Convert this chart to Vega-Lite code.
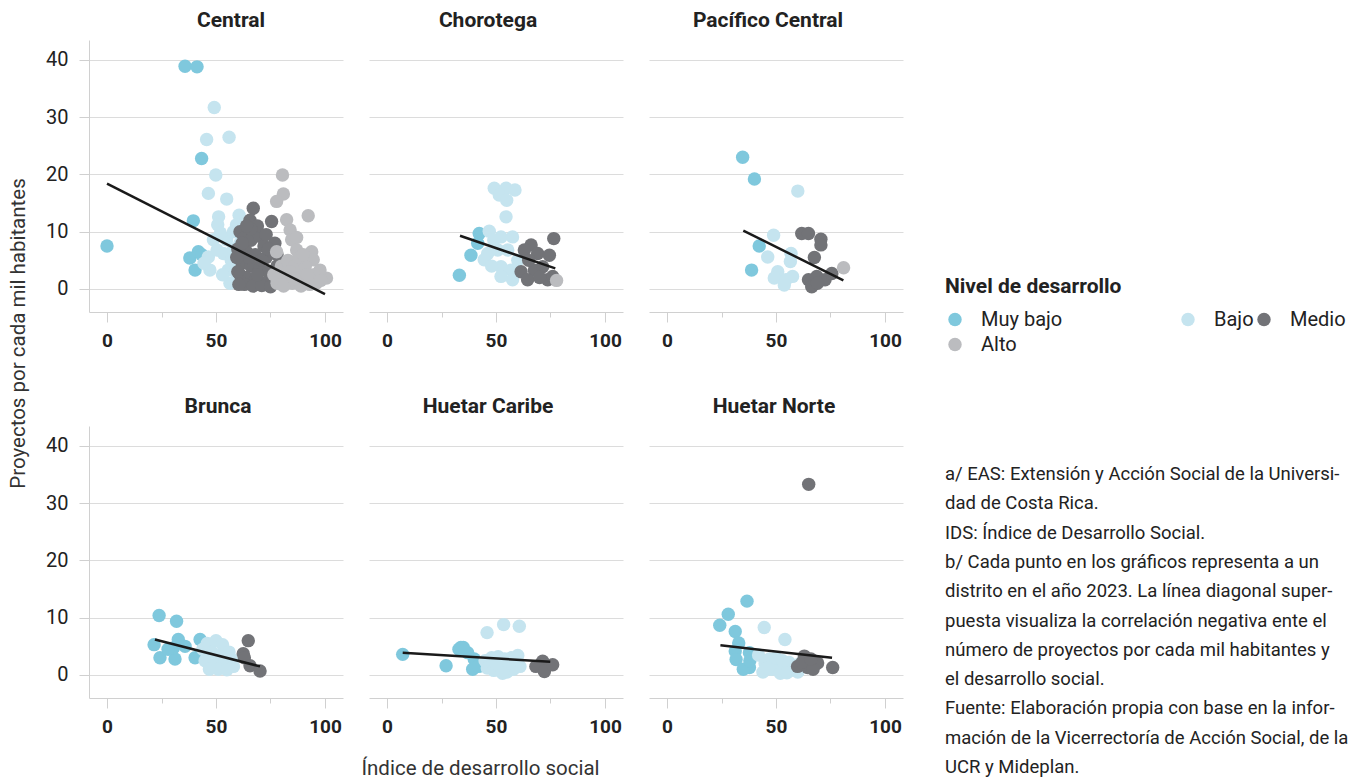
{
"$schema": "https://vega.github.io/schema/vega-lite/v6.json",
"padding": {"left": 8, "top": 10, "right": 0, "bottom": 0},
"config": {"font": "Roboto", "view": {"stroke": null}},
"datasets": {
"pts": [
{"region":"Central","nivel":"Muy bajo","ids":0,"proy":7.5},
{"region":"Central","nivel":"Muy bajo","ids":35.8,"proy":38.9},
{"region":"Central","nivel":"Muy bajo","ids":41.3,"proy":38.8},
{"region":"Central","nivel":"Muy bajo","ids":43.4,"proy":22.8},
{"region":"Central","nivel":"Muy bajo","ids":39.6,"proy":11.9},
{"region":"Central","nivel":"Muy bajo","ids":38,"proy":5.4},
{"region":"Central","nivel":"Muy bajo","ids":41.9,"proy":6.5},
{"region":"Central","nivel":"Muy bajo","ids":40.4,"proy":3.3},
{"region":"Central","nivel":"Muy bajo","ids":43.5,"proy":6.0},
{"region":"Central","nivel":"Bajo","ids":49.2,"proy":31.7},
{"region":"Central","nivel":"Bajo","ids":45.7,"proy":26.1},
{"region":"Central","nivel":"Bajo","ids":56,"proy":26.5},
{"region":"Central","nivel":"Bajo","ids":49.9,"proy":19.9},
{"region":"Central","nivel":"Bajo","ids":46.5,"proy":16.7},
{"region":"Central","nivel":"Bajo","ids":54.9,"proy":15.7},
{"region":"Central","nivel":"Bajo","ids":51.2,"proy":12.6},
{"region":"Central","nivel":"Bajo","ids":60.6,"proy":12.9},
{"region":"Central","nivel":"Bajo","ids":50.8,"proy":11.2},
{"region":"Central","nivel":"Bajo","ids":59.4,"proy":11.2},
{"region":"Central","nivel":"Bajo","ids":48.8,"proy":8.6},
{"region":"Central","nivel":"Bajo","ids":54.9,"proy":8.6},
{"region":"Central","nivel":"Bajo","ids":46.5,"proy":5.6},
{"region":"Central","nivel":"Bajo","ids":53.4,"proy":6.2},
{"region":"Central","nivel":"Bajo","ids":55.6,"proy":3.3},
{"region":"Central","nivel":"Bajo","ids":47.2,"proy":3.3},
{"region":"Central","nivel":"Bajo","ids":56.4,"proy":1.0},
{"region":"Central","nivel":"Bajo","ids":52,"proy":9.8},
{"region":"Central","nivel":"Bajo","ids":58,"proy":7},
{"region":"Central","nivel":"Bajo","ids":57,"proy":5},
{"region":"Central","nivel":"Bajo","ids":44.5,"proy":4.5},
{"region":"Central","nivel":"Bajo","ids":53,"proy":2.5},
{"region":"Central","nivel":"Bajo","ids":59,"proy":3},
{"region":"Central","nivel":"Bajo","ids":50.5,"proy":6.8},
{"region":"Central","nivel":"Bajo","ids":61,"proy":8},
{"region":"Central","nivel":"Bajo","ids":58,"proy":10},
{"region":"Central","nivel":"Medio","ids":67.1,"proy":14.1},
{"region":"Central","nivel":"Medio","ids":75.5,"proy":11.8},
{"region":"Central","nivel":"Medio","ids":65.6,"proy":12},
{"region":"Central","nivel":"Medio","ids":61,"proy":10},
{"region":"Central","nivel":"Medio","ids":63,"proy":9},
{"region":"Central","nivel":"Medio","ids":66,"proy":8.5},
{"region":"Central","nivel":"Medio","ids":70,"proy":9.2},
{"region":"Central","nivel":"Medio","ids":72,"proy":7.5},
{"region":"Central","nivel":"Medio","ids":60,"proy":7},
{"region":"Central","nivel":"Medio","ids":64,"proy":6.5},
{"region":"Central","nivel":"Medio","ids":68,"proy":6},
{"region":"Central","nivel":"Medio","ids":73,"proy":5.5},
{"region":"Central","nivel":"Medio","ids":76,"proy":6.5},
{"region":"Central","nivel":"Medio","ids":62,"proy":4.5},
{"region":"Central","nivel":"Medio","ids":66,"proy":4},
{"region":"Central","nivel":"Medio","ids":70,"proy":3.5},
{"region":"Central","nivel":"Medio","ids":74,"proy":3},
{"region":"Central","nivel":"Medio","ids":78,"proy":4},
{"region":"Central","nivel":"Medio","ids":61,"proy":2.5},
{"region":"Central","nivel":"Medio","ids":64,"proy":2},
{"region":"Central","nivel":"Medio","ids":68,"proy":1.5},
{"region":"Central","nivel":"Medio","ids":72,"proy":1},
{"region":"Central","nivel":"Medio","ids":76,"proy":1.5},
{"region":"Central","nivel":"Medio","ids":63,"proy":0.8},
{"region":"Central","nivel":"Medio","ids":67,"proy":0.5},
{"region":"Central","nivel":"Medio","ids":71,"proy":0.6},
{"region":"Central","nivel":"Medio","ids":75,"proy":0.4},
{"region":"Central","nivel":"Medio","ids":79,"proy":2},
{"region":"Central","nivel":"Medio","ids":69,"proy":2.5},
{"region":"Central","nivel":"Medio","ids":65,"proy":5.5},
{"region":"Central","nivel":"Medio","ids":62,"proy":8},
{"region":"Central","nivel":"Medio","ids":71,"proy":5},
{"region":"Central","nivel":"Medio","ids":59.5,"proy":5.5},
{"region":"Central","nivel":"Medio","ids":60,"proy":3},
{"region":"Central","nivel":"Medio","ids":77,"proy":8},
{"region":"Central","nivel":"Medio","ids":60.5,"proy":0.8},
{"region":"Central","nivel":"Medio","ids":69,"proy":11},
{"region":"Central","nivel":"Medio","ids":73,"proy":9.5},
{"region":"Central","nivel":"Medio","ids":66,"proy":10.5},
{"region":"Central","nivel":"Medio","ids":64,"proy":11},
{"region":"Central","nivel":"Medio","ids":74,"proy":7},
{"region":"Central","nivel":"Medio","ids":78,"proy":6},
{"region":"Central","nivel":"Alto","ids":80.5,"proy":19.9},
{"region":"Central","nivel":"Alto","ids":80.9,"proy":16.6},
{"region":"Central","nivel":"Alto","ids":77.8,"proy":15.3},
{"region":"Central","nivel":"Alto","ids":92.3,"proy":12.8},
{"region":"Central","nivel":"Alto","ids":82.4,"proy":12.1},
{"region":"Central","nivel":"Alto","ids":84,"proy":10.3},
{"region":"Central","nivel":"Alto","ids":84.7,"proy":8.6},
{"region":"Central","nivel":"Alto","ids":77.8,"proy":6.5},
{"region":"Central","nivel":"Alto","ids":87,"proy":6.8},
{"region":"Central","nivel":"Alto","ids":93.9,"proy":6.5},
{"region":"Central","nivel":"Alto","ids":94.6,"proy":5.1},
{"region":"Central","nivel":"Alto","ids":100.7,"proy":1.9},
{"region":"Central","nivel":"Alto","ids":97.7,"proy":3.3},
{"region":"Central","nivel":"Alto","ids":88.5,"proy":2.7},
{"region":"Central","nivel":"Alto","ids":80,"proy":4},
{"region":"Central","nivel":"Alto","ids":82,"proy":2},
{"region":"Central","nivel":"Alto","ids":85,"proy":1},
{"region":"Central","nivel":"Alto","ids":90,"proy":1.5},
{"region":"Central","nivel":"Alto","ids":93,"proy":0.8},
{"region":"Central","nivel":"Alto","ids":95,"proy":2.5},
{"region":"Central","nivel":"Alto","ids":78,"proy":1},
{"region":"Central","nivel":"Alto","ids":83,"proy":5},
{"region":"Central","nivel":"Alto","ids":86,"proy":4},
{"region":"Central","nivel":"Alto","ids":91,"proy":4},
{"region":"Central","nivel":"Alto","ids":89,"proy":0.5},
{"region":"Central","nivel":"Alto","ids":96,"proy":1},
{"region":"Central","nivel":"Alto","ids":81,"proy":0.5},
{"region":"Central","nivel":"Alto","ids":92,"proy":2.5},
{"region":"Central","nivel":"Alto","ids":87,"proy":9},
{"region":"Central","nivel":"Alto","ids":79,"proy":3},
{"region":"Central","nivel":"Alto","ids":84,"proy":3},
{"region":"Central","nivel":"Alto","ids":98,"proy":1.5},
{"region":"Central","nivel":"Alto","ids":88,"proy":5.5},
{"region":"Central","nivel":"Alto","ids":76.5,"proy":2.5},
{"region":"Central","nivel":"Alto","ids":90,"proy":6},
{"region":"Central","nivel":"Alto","ids":86,"proy":1.8},
{"region":"Chorotega","nivel":"Muy bajo","ids":33.2,"proy":2.4},
{"region":"Chorotega","nivel":"Muy bajo","ids":38.5,"proy":5.9},
{"region":"Chorotega","nivel":"Muy bajo","ids":42.3,"proy":9.7},
{"region":"Chorotega","nivel":"Muy bajo","ids":41.6,"proy":8.0},
{"region":"Chorotega","nivel":"Bajo","ids":49.2,"proy":17.6},
{"region":"Chorotega","nivel":"Bajo","ids":54.6,"proy":17.6},
{"region":"Chorotega","nivel":"Bajo","ids":58.7,"proy":17.3},
{"region":"Chorotega","nivel":"Bajo","ids":51.5,"proy":16.4},
{"region":"Chorotega","nivel":"Bajo","ids":54.9,"proy":15.5},
{"region":"Chorotega","nivel":"Bajo","ids":54.6,"proy":12.6},
{"region":"Chorotega","nivel":"Bajo","ids":46.9,"proy":10.1},
{"region":"Chorotega","nivel":"Bajo","ids":52.3,"proy":9.1},
{"region":"Chorotega","nivel":"Bajo","ids":57.6,"proy":9.1},
{"region":"Chorotega","nivel":"Bajo","ids":46.2,"proy":6.2},
{"region":"Chorotega","nivel":"Bajo","ids":50.8,"proy":6.8},
{"region":"Chorotega","nivel":"Bajo","ids":55.4,"proy":6.8},
{"region":"Chorotega","nivel":"Bajo","ids":44.6,"proy":5.1},
{"region":"Chorotega","nivel":"Bajo","ids":52.3,"proy":3.9},
{"region":"Chorotega","nivel":"Bajo","ids":56.9,"proy":3.3},
{"region":"Chorotega","nivel":"Bajo","ids":52.3,"proy":2.2},
{"region":"Chorotega","nivel":"Bajo","ids":57.6,"proy":1.6},
{"region":"Chorotega","nivel":"Bajo","ids":48,"proy":4},
{"region":"Chorotega","nivel":"Bajo","ids":60,"proy":5},
{"region":"Chorotega","nivel":"Bajo","ids":49,"proy":8.5},
{"region":"Chorotega","nivel":"Medio","ids":76.5,"proy":8.8},
{"region":"Chorotega","nivel":"Medio","ids":66.1,"proy":7.7},
{"region":"Chorotega","nivel":"Medio","ids":63,"proy":6.8},
{"region":"Chorotega","nivel":"Medio","ids":69.1,"proy":6.2},
{"region":"Chorotega","nivel":"Medio","ids":74.5,"proy":5.9},
{"region":"Chorotega","nivel":"Medio","ids":61.5,"proy":3.0},
{"region":"Chorotega","nivel":"Medio","ids":67.6,"proy":3.3},
{"region":"Chorotega","nivel":"Medio","ids":71.4,"proy":3.9},
{"region":"Chorotega","nivel":"Medio","ids":64.5,"proy":1.6},
{"region":"Chorotega","nivel":"Medio","ids":73.7,"proy":1.6},
{"region":"Chorotega","nivel":"Medio","ids":76,"proy":2.2},
{"region":"Chorotega","nivel":"Medio","ids":65,"proy":5},
{"region":"Chorotega","nivel":"Medio","ids":70,"proy":2},
{"region":"Chorotega","nivel":"Alto","ids":77.8,"proy":1.5},
{"region":"Pacífico Central","nivel":"Muy bajo","ids":34.7,"proy":23.0},
{"region":"Pacífico Central","nivel":"Muy bajo","ids":40.1,"proy":19.2},
{"region":"Pacífico Central","nivel":"Muy bajo","ids":42.3,"proy":7.5},
{"region":"Pacífico Central","nivel":"Muy bajo","ids":38.8,"proy":3.3},
{"region":"Pacífico Central","nivel":"Bajo","ids":60,"proy":17.1},
{"region":"Pacífico Central","nivel":"Bajo","ids":48.9,"proy":9.4},
{"region":"Pacífico Central","nivel":"Bajo","ids":46.2,"proy":5.6},
{"region":"Pacífico Central","nivel":"Bajo","ids":56.9,"proy":6.2},
{"region":"Pacífico Central","nivel":"Bajo","ids":56.6,"proy":4.8},
{"region":"Pacífico Central","nivel":"Bajo","ids":50.8,"proy":3.0},
{"region":"Pacífico Central","nivel":"Bajo","ids":49.2,"proy":1.9},
{"region":"Pacífico Central","nivel":"Bajo","ids":54.6,"proy":1.6},
{"region":"Pacífico Central","nivel":"Bajo","ids":57.6,"proy":2.2},
{"region":"Pacífico Central","nivel":"Bajo","ids":53.8,"proy":0.7},
{"region":"Pacífico Central","nivel":"Medio","ids":61.8,"proy":9.7},
{"region":"Pacífico Central","nivel":"Medio","ids":64.9,"proy":9.7},
{"region":"Pacífico Central","nivel":"Medio","ids":70.6,"proy":8.7},
{"region":"Pacífico Central","nivel":"Medio","ids":70.6,"proy":7.7},
{"region":"Pacífico Central","nivel":"Medio","ids":67.6,"proy":5.5},
{"region":"Pacífico Central","nivel":"Medio","ids":64.9,"proy":1.6},
{"region":"Pacífico Central","nivel":"Medio","ids":68.7,"proy":2.2},
{"region":"Pacífico Central","nivel":"Medio","ids":72.5,"proy":1.6},
{"region":"Pacífico Central","nivel":"Medio","ids":75.6,"proy":2.7},
{"region":"Pacífico Central","nivel":"Medio","ids":66.4,"proy":0.4},
{"region":"Pacífico Central","nivel":"Medio","ids":69,"proy":1},
{"region":"Pacífico Central","nivel":"Alto","ids":81,"proy":3.7},
{"region":"Brunca","nivel":"Muy bajo","ids":23.9,"proy":10.4},
{"region":"Brunca","nivel":"Muy bajo","ids":31.9,"proy":9.4},
{"region":"Brunca","nivel":"Muy bajo","ids":21.6,"proy":5.3},
{"region":"Brunca","nivel":"Muy bajo","ids":24.3,"proy":3.0},
{"region":"Brunca","nivel":"Muy bajo","ids":31.2,"proy":2.8},
{"region":"Brunca","nivel":"Muy bajo","ids":32.7,"proy":6.2},
{"region":"Brunca","nivel":"Muy bajo","ids":30.4,"proy":4.7},
{"region":"Brunca","nivel":"Muy bajo","ids":35.8,"proy":5.0},
{"region":"Brunca","nivel":"Muy bajo","ids":42.7,"proy":6.2},
{"region":"Brunca","nivel":"Muy bajo","ids":40.4,"proy":3.0},
{"region":"Brunca","nivel":"Muy bajo","ids":28,"proy":4.5},
{"region":"Brunca","nivel":"Bajo","ids":46,"proy":5.5},
{"region":"Brunca","nivel":"Bajo","ids":50,"proy":6},
{"region":"Brunca","nivel":"Bajo","ids":53,"proy":5.3},
{"region":"Brunca","nivel":"Bajo","ids":48,"proy":4},
{"region":"Brunca","nivel":"Bajo","ids":52,"proy":3.5},
{"region":"Brunca","nivel":"Bajo","ids":56,"proy":4},
{"region":"Brunca","nivel":"Bajo","ids":45,"proy":2.5},
{"region":"Brunca","nivel":"Bajo","ids":49,"proy":1.8},
{"region":"Brunca","nivel":"Bajo","ids":54,"proy":2},
{"region":"Brunca","nivel":"Bajo","ids":57,"proy":2.8},
{"region":"Brunca","nivel":"Bajo","ids":51,"proy":1},
{"region":"Brunca","nivel":"Bajo","ids":47,"proy":1},
{"region":"Brunca","nivel":"Bajo","ids":55,"proy":0.9},
{"region":"Brunca","nivel":"Bajo","ids":44,"proy":4.5},
{"region":"Brunca","nivel":"Bajo","ids":58,"proy":1.5},
{"region":"Brunca","nivel":"Medio","ids":64.8,"proy":6.0},
{"region":"Brunca","nivel":"Medio","ids":62.5,"proy":3.7},
{"region":"Brunca","nivel":"Medio","ids":63,"proy":3},
{"region":"Brunca","nivel":"Medio","ids":65.6,"proy":1.6},
{"region":"Brunca","nivel":"Medio","ids":70.2,"proy":0.7},
{"region":"Huetar Caribe","nivel":"Muy bajo","ids":7.2,"proy":3.6},
{"region":"Huetar Caribe","nivel":"Muy bajo","ids":27.1,"proy":1.6},
{"region":"Huetar Caribe","nivel":"Muy bajo","ids":33.9,"proy":4.8},
{"region":"Huetar Caribe","nivel":"Muy bajo","ids":37,"proy":3.9},
{"region":"Huetar Caribe","nivel":"Muy bajo","ids":40,"proy":2.8},
{"region":"Huetar Caribe","nivel":"Muy bajo","ids":39.3,"proy":1.0},
{"region":"Huetar Caribe","nivel":"Muy bajo","ids":33,"proy":4.5},
{"region":"Huetar Caribe","nivel":"Muy bajo","ids":35,"proy":4.8},
{"region":"Huetar Caribe","nivel":"Muy bajo","ids":42,"proy":1.5},
{"region":"Huetar Caribe","nivel":"Bajo","ids":45.9,"proy":7.4},
{"region":"Huetar Caribe","nivel":"Bajo","ids":53.5,"proy":8.8},
{"region":"Huetar Caribe","nivel":"Bajo","ids":60.7,"proy":8.5},
{"region":"Huetar Caribe","nivel":"Bajo","ids":45,"proy":2.5},
{"region":"Huetar Caribe","nivel":"Bajo","ids":48,"proy":3},
{"region":"Huetar Caribe","nivel":"Bajo","ids":51,"proy":3.2},
{"region":"Huetar Caribe","nivel":"Bajo","ids":54,"proy":2.8},
{"region":"Huetar Caribe","nivel":"Bajo","ids":57,"proy":3},
{"region":"Huetar Caribe","nivel":"Bajo","ids":60,"proy":3.4},
{"region":"Huetar Caribe","nivel":"Bajo","ids":46,"proy":1.2},
{"region":"Huetar Caribe","nivel":"Bajo","ids":49,"proy":0.8},
{"region":"Huetar Caribe","nivel":"Bajo","ids":52,"proy":1.5},
{"region":"Huetar Caribe","nivel":"Bajo","ids":55,"proy":0.5},
{"region":"Huetar Caribe","nivel":"Bajo","ids":58,"proy":1},
{"region":"Huetar Caribe","nivel":"Bajo","ids":61,"proy":1.5},
{"region":"Huetar Caribe","nivel":"Bajo","ids":50,"proy":2},
{"region":"Huetar Caribe","nivel":"Bajo","ids":56,"proy":2},
{"region":"Huetar Caribe","nivel":"Bajo","ids":53,"proy":0.3},
{"region":"Huetar Caribe","nivel":"Medio","ids":71.4,"proy":2.4},
{"region":"Huetar Caribe","nivel":"Medio","ids":68.3,"proy":1.5},
{"region":"Huetar Caribe","nivel":"Medio","ids":72.2,"proy":0.6},
{"region":"Huetar Caribe","nivel":"Medio","ids":76,"proy":1.8},
{"region":"Huetar Norte","nivel":"Muy bajo","ids":36.7,"proy":12.9},
{"region":"Huetar Norte","nivel":"Muy bajo","ids":28.1,"proy":10.6},
{"region":"Huetar Norte","nivel":"Muy bajo","ids":24.2,"proy":8.7},
{"region":"Huetar Norte","nivel":"Muy bajo","ids":31.3,"proy":7.6},
{"region":"Huetar Norte","nivel":"Muy bajo","ids":32.9,"proy":5.6},
{"region":"Huetar Norte","nivel":"Muy bajo","ids":31.3,"proy":4.2},
{"region":"Huetar Norte","nivel":"Muy bajo","ids":31.7,"proy":2.7},
{"region":"Huetar Norte","nivel":"Muy bajo","ids":37.8,"proy":3.9},
{"region":"Huetar Norte","nivel":"Muy bajo","ids":37.8,"proy":1.3},
{"region":"Huetar Norte","nivel":"Muy bajo","ids":35,"proy":1},
{"region":"Huetar Norte","nivel":"Muy bajo","ids":38,"proy":2.5},
{"region":"Huetar Norte","nivel":"Bajo","ids":44.6,"proy":8.3},
{"region":"Huetar Norte","nivel":"Bajo","ids":54.1,"proy":6.2},
{"region":"Huetar Norte","nivel":"Bajo","ids":42,"proy":3.5},
{"region":"Huetar Norte","nivel":"Bajo","ids":45,"proy":2},
{"region":"Huetar Norte","nivel":"Bajo","ids":48,"proy":1},
{"region":"Huetar Norte","nivel":"Bajo","ids":51,"proy":1.5},
{"region":"Huetar Norte","nivel":"Bajo","ids":54,"proy":1},
{"region":"Huetar Norte","nivel":"Bajo","ids":57,"proy":0.8},
{"region":"Huetar Norte","nivel":"Bajo","ids":44,"proy":0.5},
{"region":"Huetar Norte","nivel":"Bajo","ids":47,"proy":2.8},
{"region":"Huetar Norte","nivel":"Bajo","ids":50,"proy":3},
{"region":"Huetar Norte","nivel":"Bajo","ids":53,"proy":2.5},
{"region":"Huetar Norte","nivel":"Bajo","ids":56,"proy":2.2},
{"region":"Huetar Norte","nivel":"Bajo","ids":59,"proy":1.2},
{"region":"Huetar Norte","nivel":"Bajo","ids":61,"proy":2},
{"region":"Huetar Norte","nivel":"Bajo","ids":46,"proy":1.2},
{"region":"Huetar Norte","nivel":"Bajo","ids":52,"proy":0.3},
{"region":"Huetar Norte","nivel":"Bajo","ids":55,"proy":0.4},
{"region":"Huetar Norte","nivel":"Bajo","ids":60,"proy":0.5},
{"region":"Huetar Norte","nivel":"Medio","ids":65,"proy":33.3},
{"region":"Huetar Norte","nivel":"Medio","ids":63,"proy":3.3},
{"region":"Huetar Norte","nivel":"Medio","ids":59.9,"proy":1.5},
{"region":"Huetar Norte","nivel":"Medio","ids":64.5,"proy":1.3},
{"region":"Huetar Norte","nivel":"Medio","ids":69.1,"proy":2.1},
{"region":"Huetar Norte","nivel":"Medio","ids":76,"proy":1.3},
{"region":"Huetar Norte","nivel":"Medio","ids":62,"proy":2.2},
{"region":"Huetar Norte","nivel":"Medio","ids":67,"proy":1},
{"region":"Huetar Norte","nivel":"Medio","ids":66,"proy":2.8}
],
"lines": [
{"region":"Central","ids":0,"proy":18.4},{"region":"Central","ids":100,"proy":-0.9},
{"region":"Chorotega","ids":33.5,"proy":9.3},{"region":"Chorotega","ids":77.2,"proy":3.6},
{"region":"Pacífico Central","ids":35,"proy":10.2},{"region":"Pacífico Central","ids":80.9,"proy":1.5},
{"region":"Brunca","ids":22,"proy":6.2},{"region":"Brunca","ids":70.2,"proy":1.5},
{"region":"Huetar Caribe","ids":7.2,"proy":3.9},{"region":"Huetar Caribe","ids":74.9,"proy":2.3},
{"region":"Huetar Norte","ids":24.5,"proy":5.2},{"region":"Huetar Norte","ids":75.7,"proy":3.0}
],
"notes": [
{"linea":0,"texto":"a/ EAS: Extensión y Acción Social de la Universi-"},
{"linea":1,"texto":"dad de Costa Rica."},
{"linea":2,"texto":"IDS: Índice de Desarrollo Social."},
{"linea":3,"texto":"b/ Cada punto en los gráficos representa a un"},
{"linea":4,"texto":"distrito en el año 2023. La línea diagonal super-"},
{"linea":5,"texto":"puesta visualiza la correlación negativa ente el"},
{"linea":6,"texto":"número de proyectos por cada mil habitantes y"},
{"linea":7,"texto":"el desarrollo social."},
{"linea":8,"texto":"Fuente: Elaboración propia con base en la infor-"},
{"linea":9,"texto":"mación de la Vicerrectoría de Acción Social, de la"},
{"linea":10,"texto":"UCR y Mideplan."}
]
},
"columns": 4,
"bounds": "flush",
"align": "each",
"spacing": {"row": 114, "column": 26},
"concat": [
{
"width": 254, "height": 272,
"title": {"text": "Central", "fontSize": 21, "fontWeight": "bold", "color": "#222", "anchor": "middle", "offset": 9, "dx": 15},
"layer": [
{"data": {"name": "pts"}, "transform": [{"filter": "datum.region === 'Central'"}],
"mark": {"type": "circle", "size": 180, "opacity": 1},
"encoding": {
"x": {"field": "ids", "type": "quantitative", "scale": {"domain": [-8.26, 108.26], "nice": false, "zero": false},
"axis": {"values": [0, 25, 50, 75, 100], "labelExpr": "datum.value % 50 === 0 ? datum.label : ''", "labelFontWeight": "bold", "labelFontSize": 19, "labelColor": "#222", "tickSize": {"condition": {"test": "datum.value % 50 === 0", "value": 10}, "value": 5}, "tickColor": "#d0d0d0", "domainColor": "#d0d0d0", "grid": false, "title": null, "labelPadding": 9}},
"y": {"field": "proy", "type": "quantitative", "scale": {"domain": [-4.02, 43.49], "nice": false, "zero": false},
"axis": {"values": [0, 10, 20, 30, 40], "grid": true, "gridColor": "#dcdcdc", "domainColor": "#d0d0d0", "tickColor": "#d0d0d0", "tickSize": 10, "labelFontSize": 20, "labelColor": "#222", "labelPadding": 11,
"title": "Proyectos por cada mil habitantes", "titleFontSize": 20.5, "titleFontWeight": "normal", "titleColor": "#333", "titleX": -71, "titleY": 293, "titleBaseline": "middle", "titleAlign": "center"}},
"color": {"field": "nivel", "type": "nominal", "scale": {"domain": ["Muy bajo", "Bajo", "Medio", "Alto"], "range": ["#7fc8dd", "#c5e4ef", "#727377", "#bbbcbf"]},
"legend": {"orient": "none", "legendX": 856, "legendY": 235.5, "columns": 3, "direction": "horizontal", "title": "Nivel de desarrollo", "titleFontSize": 21, "titleFontWeight": "bold", "titleColor": "#222", "labelFontSize": 20, "labelColor": "#222", "symbolType": "circle", "symbolSize": 180, "symbolStrokeWidth": 0, "symbolOpacity": 1, "labelOffset": 16, "columnPadding": 0, "rowPadding": 5, "titlePadding": 13, "padding": 0, "labelLimit": 400,
"labelExpr": "datum.label === 'Muy bajo' ? 'Muy bajo  ⠀⠀⠀⠀⠀⠀⠀' : datum.label"}}
}},
{"data": {"name": "lines"}, "transform": [{"filter": "datum.region === 'Central'"}],
"mark": {"type": "line", "color": "#1a1a1a", "strokeWidth": 2.5},
"encoding": {"x": {"field": "ids", "type": "quantitative"}, "y": {"field": "proy", "type": "quantitative"}}}
]
},
{
"width": 254, "height": 272,
"title": {"text": "Chorotega", "fontSize": 21, "fontWeight": "bold", "color": "#222", "anchor": "middle", "offset": 9, "dx": -8},
"layer": [
{"data": {"name": "pts"}, "transform": [{"filter": "datum.region === 'Chorotega'"}],
"mark": {"type": "circle", "size": 180, "opacity": 1},
"encoding": {
"x": {"field": "ids", "type": "quantitative", "scale": {"domain": [-8.26, 108.26], "nice": false, "zero": false},
"axis": {"values": [0, 25, 50, 75, 100], "labelExpr": "datum.value % 50 === 0 ? datum.label : ''", "labelFontWeight": "bold", "labelFontSize": 19, "labelColor": "#222", "tickSize": {"condition": {"test": "datum.value % 50 === 0", "value": 10}, "value": 5}, "tickColor": "#d0d0d0", "domainColor": "#d0d0d0", "grid": false, "title": null, "labelPadding": 9}},
"y": {"field": "proy", "type": "quantitative", "scale": {"domain": [-4.02, 43.49], "nice": false, "zero": false},
"axis": {"values": [0, 10, 20, 30, 40], "grid": true, "gridColor": "#dcdcdc", "labels": false, "ticks": false, "domain": false, "title": null, "minExtent": 0}},
"color": {"field": "nivel", "type": "nominal", "scale": {"domain": ["Muy bajo", "Bajo", "Medio", "Alto"], "range": ["#7fc8dd", "#c5e4ef", "#727377", "#bbbcbf"]}}
}},
{"data": {"name": "lines"}, "transform": [{"filter": "datum.region === 'Chorotega'"}],
"mark": {"type": "line", "color": "#1a1a1a", "strokeWidth": 2.5},
"encoding": {"x": {"field": "ids", "type": "quantitative"}, "y": {"field": "proy", "type": "quantitative"}}}
]
},
{
"width": 254, "height": 272,
"title": {"text": "Pacífico Central", "fontSize": 21, "fontWeight": "bold", "color": "#222", "anchor": "middle", "offset": 9, "dx": -8},
"layer": [
{"data": {"name": "pts"}, "transform": [{"filter": "datum.region === 'Pacífico Central'"}],
"mark": {"type": "circle", "size": 180, "opacity": 1},
"encoding": {
"x": {"field": "ids", "type": "quantitative", "scale": {"domain": [-8.26, 108.26], "nice": false, "zero": false},
"axis": {"values": [0, 25, 50, 75, 100], "labelExpr": "datum.value % 50 === 0 ? datum.label : ''", "labelFontWeight": "bold", "labelFontSize": 19, "labelColor": "#222", "tickSize": {"condition": {"test": "datum.value % 50 === 0", "value": 10}, "value": 5}, "tickColor": "#d0d0d0", "domainColor": "#d0d0d0", "grid": false, "title": null, "labelPadding": 9}},
"y": {"field": "proy", "type": "quantitative", "scale": {"domain": [-4.02, 43.49], "nice": false, "zero": false},
"axis": {"values": [0, 10, 20, 30, 40], "grid": true, "gridColor": "#dcdcdc", "labels": false, "ticks": false, "domain": false, "title": null, "minExtent": 0}},
"color": {"field": "nivel", "type": "nominal", "scale": {"domain": ["Muy bajo", "Bajo", "Medio", "Alto"], "range": ["#7fc8dd", "#c5e4ef", "#727377", "#bbbcbf"]}}
}},
{"data": {"name": "lines"}, "transform": [{"filter": "datum.region === 'Pacífico Central'"}],
"mark": {"type": "line", "color": "#1a1a1a", "strokeWidth": 2.5},
"encoding": {"x": {"field": "ids", "type": "quantitative"}, "y": {"field": "proy", "type": "quantitative"}}}
]
},
{
"width": 400, "height": 272,
"data": {"name": "notes"},
"mark": {"type": "text", "align": "left", "baseline": "middle", "fontSize": 18.5, "color": "#222"},
"encoding": {
"x": {"datum": 0, "type": "quantitative", "scale": {"domain": [-0.04, 0.96], "nice": false, "zero": false}, "axis": null},
"y": {"field": "linea", "type": "quantitative", "scale": {"domain": [-14.812, -5.529], "reverse": true, "nice": false, "zero": false}, "axis": null},
"text": {"field": "texto", "type": "nominal"}
}
},
{
"width": 254, "height": 272,
"title": {"text": "Brunca", "fontSize": 21, "fontWeight": "bold", "color": "#222", "anchor": "middle", "offset": 9, "dx": 2},
"layer": [
{"data": {"name": "pts"}, "transform": [{"filter": "datum.region === 'Brunca'"}],
"mark": {"type": "circle", "size": 180, "opacity": 1},
"encoding": {
"x": {"field": "ids", "type": "quantitative", "scale": {"domain": [-8.26, 108.26], "nice": false, "zero": false},
"axis": {"values": [0, 25, 50, 75, 100], "labelExpr": "datum.value % 50 === 0 ? datum.label : ''", "labelFontWeight": "bold", "labelFontSize": 19, "labelColor": "#222", "tickSize": {"condition": {"test": "datum.value % 50 === 0", "value": 10}, "value": 5}, "tickColor": "#d0d0d0", "domainColor": "#d0d0d0", "grid": false, "title": null, "labelPadding": 9}},
"y": {"field": "proy", "type": "quantitative", "scale": {"domain": [-4.02, 43.49], "nice": false, "zero": false},
"axis": {"values": [0, 10, 20, 30, 40], "grid": true, "gridColor": "#dcdcdc", "domainColor": "#d0d0d0", "tickColor": "#d0d0d0", "tickSize": 10, "labelFontSize": 20, "labelColor": "#222", "labelPadding": 11, "title": null}},
"color": {"field": "nivel", "type": "nominal", "scale": {"domain": ["Muy bajo", "Bajo", "Medio", "Alto"], "range": ["#7fc8dd", "#c5e4ef", "#727377", "#bbbcbf"]}}
}},
{"data": {"name": "lines"}, "transform": [{"filter": "datum.region === 'Brunca'"}],
"mark": {"type": "line", "color": "#1a1a1a", "strokeWidth": 2.5},
"encoding": {"x": {"field": "ids", "type": "quantitative"}, "y": {"field": "proy", "type": "quantitative"}}}
]
},
{
"width": 254, "height": 272,
"title": {"text": "Huetar Caribe", "fontSize": 21, "fontWeight": "bold", "color": "#222", "anchor": "middle", "offset": 9, "dx": -8},
"layer": [
{"data": {"name": "pts"}, "transform": [{"filter": "datum.region === 'Huetar Caribe'"}],
"mark": {"type": "circle", "size": 180, "opacity": 1},
"encoding": {
"x": {"field": "ids", "type": "quantitative", "scale": {"domain": [-8.26, 108.26], "nice": false, "zero": false},
"axis": {"values": [0, 25, 50, 75, 100], "labelExpr": "datum.value % 50 === 0 ? datum.label : ''", "labelFontWeight": "bold", "labelFontSize": 19, "labelColor": "#222", "tickSize": {"condition": {"test": "datum.value % 50 === 0", "value": 10}, "value": 5}, "tickColor": "#d0d0d0", "domainColor": "#d0d0d0", "grid": false, "labelPadding": 9,
"title": "Índice de desarrollo social", "titleFontSize": 20.5, "titleFontWeight": "normal", "titleColor": "#333", "titleX": 111, "titleY": 70, "titleBaseline": "middle", "titleAlign": "center"}},
"y": {"field": "proy", "type": "quantitative", "scale": {"domain": [-4.02, 43.49], "nice": false, "zero": false},
"axis": {"values": [0, 10, 20, 30, 40], "grid": true, "gridColor": "#dcdcdc", "labels": false, "ticks": false, "domain": false, "title": null, "minExtent": 0}},
"color": {"field": "nivel", "type": "nominal", "scale": {"domain": ["Muy bajo", "Bajo", "Medio", "Alto"], "range": ["#7fc8dd", "#c5e4ef", "#727377", "#bbbcbf"]}}
}},
{"data": {"name": "lines"}, "transform": [{"filter": "datum.region === 'Huetar Caribe'"}],
"mark": {"type": "line", "color": "#1a1a1a", "strokeWidth": 2.5},
"encoding": {"x": {"field": "ids", "type": "quantitative"}, "y": {"field": "proy", "type": "quantitative"}}}
]
},
{
"width": 254, "height": 272,
"title": {"text": "Huetar Norte", "fontSize": 21, "fontWeight": "bold", "color": "#222", "anchor": "middle", "offset": 9, "dx": -2},
"layer": [
{"data": {"name": "pts"}, "transform": [{"filter": "datum.region === 'Huetar Norte'"}],
"mark": {"type": "circle", "size": 180, "opacity": 1},
"encoding": {
"x": {"field": "ids", "type": "quantitative", "scale": {"domain": [-8.26, 108.26], "nice": false, "zero": false},
"axis": {"values": [0, 25, 50, 75, 100], "labelExpr": "datum.value % 50 === 0 ? datum.label : ''", "labelFontWeight": "bold", "labelFontSize": 19, "labelColor": "#222", "tickSize": {"condition": {"test": "datum.value % 50 === 0", "value": 10}, "value": 5}, "tickColor": "#d0d0d0", "domainColor": "#d0d0d0", "grid": false, "title": null, "labelPadding": 9}},
"y": {"field": "proy", "type": "quantitative", "scale": {"domain": [-4.02, 43.49], "nice": false, "zero": false},
"axis": {"values": [0, 10, 20, 30, 40], "grid": true, "gridColor": "#dcdcdc", "labels": false, "ticks": false, "domain": false, "title": null, "minExtent": 0}},
"color": {"field": "nivel", "type": "nominal", "scale": {"domain": ["Muy bajo", "Bajo", "Medio", "Alto"], "range": ["#7fc8dd", "#c5e4ef", "#727377", "#bbbcbf"]}}
}},
{"data": {"name": "lines"}, "transform": [{"filter": "datum.region === 'Huetar Norte'"}],
"mark": {"type": "line", "color": "#1a1a1a", "strokeWidth": 2.5},
"encoding": {"x": {"field": "ids", "type": "quantitative"}, "y": {"field": "proy", "type": "quantitative"}}}
]
}
]
}
